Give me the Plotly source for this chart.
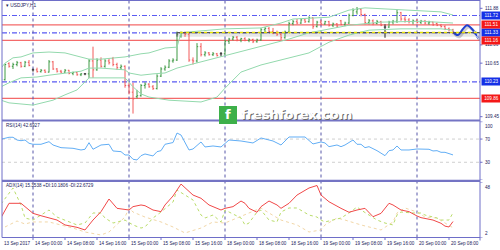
import plotly.graph_objects as go

W, H = 500, 250

# ---------------- data ----------------
bar_index = list(range(114))  # H1 bars from 13 Sep 16:00 (weekend removed)

open_ = [110.20,110.28,110.64,110.58,110.62,110.66,110.58,110.67,110.50,110.50,
         110.46,110.49,110.45,110.68,110.52,110.47,110.45,110.49,110.42,110.44,
         110.39,110.41,110.41,110.70,110.50,110.72,110.58,110.70,110.75,110.62,
         110.55,110.58,110.15,110.00,109.90,109.92,110.15,110.18,110.12,110.08,
         110.36,110.52,110.56,110.70,110.72,111.26,111.32,111.30,110.72,110.70,
         111.02,110.84,110.88,110.84,110.86,110.86,110.86,111.14,111.19,111.23,
         111.17,111.20,111.16,111.18,111.13,111.17,111.40,111.43,111.36,111.32,
         111.30,111.22,111.35,111.54,111.58,111.55,111.62,111.58,111.67,111.47,
         111.57,111.53,111.58,111.50,111.53,111.60,111.52,111.55,111.72,111.80,
         111.86,111.74,111.56,111.60,111.54,111.58,111.46,111.46,111.57,111.59,
         111.78,111.64,111.62,111.58,111.60,111.56,111.59,111.55,111.57,111.54,
         111.50,111.47,111.42,111.40]
high = [110.30,110.64,110.67,110.66,110.70,110.68,110.70,110.72,110.53,110.55,
        110.52,110.51,110.72,110.70,110.54,110.50,110.52,110.50,110.46,110.45,
        110.43,110.43,110.74,111.02,110.76,110.78,110.74,110.76,110.79,110.66,
        110.62,110.60,110.22,110.21,110.05,110.18,110.22,110.20,110.16,110.40,
        110.56,110.60,110.74,110.76,111.36,111.36,111.36,111.34,110.78,111.10,
        111.10,110.92,110.90,110.90,110.88,110.90,111.18,111.22,111.26,111.26,
        111.22,111.23,111.21,111.20,111.20,111.44,111.46,111.46,111.44,111.38,
        111.35,111.38,111.58,111.62,111.64,111.66,111.65,111.70,111.68,111.60,
        111.62,111.60,111.60,111.56,111.55,111.62,111.58,111.76,111.88,111.91,
        111.88,111.76,111.64,111.63,111.62,111.60,111.52,111.60,111.62,111.85,
        111.80,111.70,111.66,111.63,111.64,111.62,111.62,111.60,111.58,111.56,
        111.53,111.50,111.45,111.42]
low = [110.16,110.26,110.55,110.52,110.58,110.55,110.56,110.58,110.46,110.44,
       110.44,110.43,110.44,110.50,110.44,110.42,110.43,110.40,110.38,110.37,
       110.36,110.38,110.32,110.32,110.48,110.55,110.55,110.62,110.58,110.50,
       110.50,110.10,109.95,109.52,109.86,109.90,110.08,110.10,110.05,110.06,
       110.34,110.48,110.54,110.66,110.70,111.22,111.24,110.68,110.62,110.66,
       110.80,110.80,110.82,110.81,110.80,110.80,110.84,111.08,111.16,111.14,
       111.12,111.14,111.12,111.10,111.11,111.15,111.34,111.33,111.30,111.26,
       111.17,111.20,111.33,111.50,111.52,111.53,111.55,111.56,111.42,111.45,
       111.50,111.51,111.47,111.46,111.45,111.50,111.48,111.53,111.70,111.74,
       111.70,111.52,111.52,111.50,111.52,111.48,111.22,111.44,111.52,111.55,
       111.60,111.56,111.54,111.52,111.54,111.53,111.52,111.51,111.49,111.48,
       111.45,111.39,111.36,111.30]
close = [110.28,110.62,110.58,110.62,110.66,110.58,110.67,110.60,110.50,110.46,
         110.49,110.45,110.68,110.52,110.47,110.45,110.49,110.42,110.44,110.39,
         110.41,110.41,110.70,110.50,110.72,110.58,110.70,110.66,110.62,110.55,
         110.58,110.15,110.00,109.85,109.92,110.15,110.18,110.12,110.08,110.36,
         110.52,110.56,110.70,110.72,111.30,111.32,111.30,110.72,110.70,111.02,
         110.84,110.88,110.84,110.86,110.82,110.86,111.14,111.19,111.23,111.17,
         111.20,111.16,111.18,111.13,111.17,111.40,111.43,111.36,111.32,111.30,
         111.22,111.35,111.54,111.58,111.55,111.62,111.58,111.67,111.47,111.57,
         111.53,111.58,111.50,111.53,111.48,111.52,111.55,111.72,111.84,111.86,
         111.74,111.56,111.60,111.54,111.58,111.50,111.46,111.57,111.59,111.78,
         111.64,111.62,111.58,111.60,111.56,111.59,111.55,111.57,111.51,111.50,
         111.47,111.42,111.40,111.33]

# Bollinger bands (vertices)
bb_up_x = [0, 1, 3, 5, 8, 12, 16, 20, 22, 25, 28, 31, 35, 37, 41, 44, 45, 47, 56, 65, 70, 73, 82, 87, 91, 100, 110, 113]
bb_up = [110.54, 110.65, 110.77, 110.79, 110.88, 110.90, 110.88, 110.79, 110.74, 110.74, 110.77, 110.79, 110.86, 110.88,
         110.99, 111.01, 111.33, 111.35, 111.42, 111.44, 111.55, 111.64, 111.68, 111.84, 111.89, 111.84, 111.80, 111.73]
bb_mid_x = [0, 2, 5, 9, 12, 16, 20, 22, 25, 28, 31, 32, 35, 38, 41, 44, 50, 56, 65, 72, 77, 82, 87, 95, 105, 113]
bb_mid = [110.12, 110.21, 110.32, 110.34, 110.38, 110.43, 110.47, 110.54, 110.54, 110.52, 110.50, 110.43, 110.38, 110.41,
          110.43, 110.54, 110.68, 110.83, 111.03, 111.19, 111.33, 111.42, 111.50, 111.57, 111.59, 111.55]
bb_lo_x = [0, 2, 8, 10, 13, 16, 19, 22, 25, 31, 33, 35, 37, 42, 50, 54, 56, 60, 65, 70, 77, 82, 87, 92, 100, 110, 113]
bb_lo = [109.82, 109.76, 109.71, 109.76, 109.82, 109.94, 110.05, 110.32, 110.32, 110.32, 110.12, 109.96, 109.89, 109.82,
         109.78, 109.89, 110.09, 110.45, 110.61, 110.72, 110.88, 111.12, 111.28, 111.39, 111.42, 111.42, 111.39]

# RSI(14)
rsi_x = [0, 2, 3, 4, 5, 6, 7, 8, 10, 12, 13, 15, 18, 20, 21, 22, 23, 25, 27, 28, 30, 31, 32, 33, 34, 35, 36, 38, 39, 40,
         41, 42, 43, 44, 45, 47, 48, 50, 51, 53, 55, 57, 60, 63, 65, 68, 70, 72, 76, 78, 80, 81, 82, 84, 85, 86, 88, 89, 90,
         91, 92, 94, 96, 97, 98, 99, 100, 102, 104, 107, 108, 109, 110, 111, 113]
rsi = [69.7, 73.1, 73.1, 68.4, 67.2, 68.4, 62.8, 61.0, 61.0, 65.5, 59.8, 55.2, 54.1, 51.2, 52.4, 63.8, 52.4, 59.8, 61.0,
       49.5, 48.3, 42.6, 42.6, 35.2, 34.0, 41.4, 44.3, 40.9, 48.3, 50.0, 61.0, 62.0, 64.0, 80.4, 77.0, 51.2, 52.9, 65.0,
       56.4, 58.1, 56.4, 68.4, 66.7, 63.3, 71.9, 66.7, 59.8, 73.6, 73.6, 61.6, 65.0, 63.3, 56.9, 59.8, 56.9, 59.8, 68.4,
       61.0, 61.0, 55.2, 56.9, 50.0, 41.4, 50.0, 51.2, 58.1, 51.2, 51.2, 52.9, 52.4, 49.5, 50.0, 47.2, 47.2, 42.69]

# ADX(14)
adx_x = [0, 1, 2, 5, 8, 10, 12, 14, 16, 19, 21, 23, 25, 27, 29, 32, 33, 35, 36, 38, 40, 41, 43, 45, 48, 50, 52, 53, 55,
         56, 58, 60, 61, 62, 64, 65, 67, 69, 70, 72, 74, 77, 79, 80, 82, 85, 87, 89, 91, 93, 95, 97, 98, 100, 102, 104,
         105, 108, 110, 111, 112, 113]
adx = [18.6, 25.0, 30.6, 30.6, 22.2, 20.2, 18.6, 16.6, 12.5, 10.5, 8.3, 16.6, 23.6, 34.2, 26.4, 25.0, 27.8, 29.2, 28.6,
       25.0, 23.6, 29.2, 36.7, 46.7, 37.5, 34.8, 29.2, 27.8, 25.0, 26.4, 27.8, 32.5, 30.6, 26.4, 23.1, 27.8, 32.5, 29.2,
       26.4, 30.6, 37.5, 43.4, 45.5, 37.5, 31.9, 26.4, 23.1, 25.0, 26.4, 19.4, 22.2, 30.6, 29.2, 25.0, 23.6, 20.0, 18.6,
       16.6, 13.9, 11.5, 10.8, 15.35]
di_a_x = [0, 3, 5, 6, 8, 10, 12, 14, 16, 19, 21, 23, 25, 26, 28, 31, 33, 35, 36, 38, 40, 43, 44, 46, 48, 50, 51, 53, 55,
          56, 57, 60, 61, 62, 64, 65, 67, 69, 70, 72, 74, 77, 79, 80, 81, 83, 85, 87, 89, 90, 92, 94, 96, 98, 99, 100,
          103, 105, 106, 109, 110, 112, 113]
di_a = [30.0, 43.4, 29.2, 18.3, 16.6, 20.8, 25.0, 19.1, 16.6, 12.5, 14.1, 22.5, 22.5, 18.3, 14.1, 16.6, 12.5, 9.9, 10.8,
        18.3, 23.3, 31.7, 41.7, 37.5, 33.4, 20.8, 18.3, 20.8, 15.0, 25.0, 23.3, 18.3, 12.5, 14.1, 23.3, 25.0, 16.6, 15.0,
        23.3, 26.7, 26.7, 20.8, 19.1, 16.6, 15.0, 16.6, 18.3, 22.5, 27.5, 25.0, 20.8, 16.6, 14.1, 12.5, 20.8, 23.3, 22.5,
        22.5, 20.8, 18.3, 16.6, 16.6, 22.67]
di_b_x = [1, 4, 6, 8, 12, 15, 18, 21, 25, 27, 31, 32, 33, 36, 40, 43, 46, 50, 53, 56, 59, 61, 62, 65, 67, 70, 74, 77,
          80, 81, 84, 86, 90, 93, 95, 98, 99, 101, 104, 106, 109, 111, 113]
di_b = [10.8, 15.8, 13.3, 15.0, 15.0, 12.5, 9.9, 6.6, 4.1, 6.6, 19.1, 26.7, 23.3, 19.1, 15.0, 10.8, 5.8, 9.9, 15.0, 14.1,
        18.3, 20.8, 22.5, 26.7, 22.5, 16.6, 12.5, 6.6, 8.3, 12.5, 18.3, 16.6, 12.5, 9.9, 8.3, 15.0, 22.5, 26.7, 23.3, 19.1,
        18.3, 14.1, 10.18]

# horizontal levels
red_levels = [111.51, 111.16, 109.86]
blue_levels = [111.72, 111.33, 110.23]
price_ticks = [111.88, 111.06, 110.65, 109.45]
zone_start = 44
zone_top, zone_bottom = 111.335, 111.245

# forecast arrow
fc_x = [113, 114.2, 115.5, 116.5, 117.5, 118.5, 119.3]
fc_y = [111.35, 111.28, 111.42, 111.50, 111.44, 111.33, 111.21]

# time axis
time_tick_idx = [0, 8, 16, 24, 32, 40, 48, 56, 64, 72, 80, 88, 96, 104, 112]
time_tick_text = ["13 Sep 2017", "14 Sep 00:00", "14 Sep 08:00", "14 Sep 16:00", "15 Sep 00:00", "15 Sep 08:00",
                  "15 Sep 16:00", "18 Sep 00:00", "18 Sep 08:00", "18 Sep 16:00", "19 Sep 00:00", "19 Sep 08:00",
                  "19 Sep 16:00", "20 Sep 00:00", "20 Sep 08:00"]
day_sep_idx = [8, 32, 56, 80, 104]

# ---------------- figure ----------------
def px_x(p):
    return p / W

def px_y(p):
    return 1 - p / H

X_LEFT, X_RIGHT = 2, 480
MAIN_T, MAIN_B = 1, 119.5
RSI_T, RSI_B = 121.5, 179.5
ADX_T, ADX_B = 182.5, 237.5
X_RANGE = [0.25, 119.75]

def idx_to_paper(i):
    return px_x(X_LEFT) + (i - X_RANGE[0]) / (X_RANGE[1] - X_RANGE[0]) * (px_x(X_RIGHT) - px_x(X_LEFT))

FRAME = "#6e6ec8"
TXT = "#20205a"
FONT = "Liberation Sans"
DASHDOT = "5px,2px,1px,2px"

fig = go.Figure()

# Bollinger
bb_col = "#93d9ad"
for bx, by in [(bb_up_x, bb_up), (bb_mid_x, bb_mid), (bb_lo_x, bb_lo)]:
    fig.add_trace(go.Scatter(x=bx, y=by, mode="lines", line=dict(color=bb_col, width=1),
                             hoverinfo="skip", showlegend=False, xaxis="x", yaxis="y"))

# OHLC bars, doji separated in black
up_i = [i for i in bar_index if close[i] > open_[i]]
dn_i = [i for i in bar_index if close[i] < open_[i]]
dj_i = [i for i in bar_index if close[i] == open_[i]]
for idx, col in [(up_i, "#3f9a45"), (dn_i, "#f25a5a"), (dj_i, "#222222")]:
    fig.add_trace(go.Ohlc(
        x=[bar_index[i] for i in idx], open=[open_[i] for i in idx], high=[high[i] for i in idx],
        low=[low[i] for i in idx], close=[close[i] for i in idx],
        increasing=dict(line=dict(color=col, width=1)), decreasing=dict(line=dict(color=col, width=1)),
        tickwidth=0.3, hoverinfo="skip", showlegend=False, xaxis="x", yaxis="y"))

# forecast curve with shadow
fig.add_trace(go.Scatter(x=[v + 0.35 for v in fc_x], y=[v - 0.04 for v in fc_y], mode="lines",
                         line=dict(color="rgba(90,90,110,0.30)", width=3, shape="spline"),
                         hoverinfo="skip", showlegend=False, xaxis="x", yaxis="y"))
fig.add_trace(go.Scatter(x=fc_x, y=fc_y, mode="lines+markers",
                         line=dict(color="#1f3fcf", width=2, shape="spline"),
                         marker=dict(symbol="arrow", angleref="previous", color="#1f3fcf",
                                     size=[0] * (len(fc_x) - 1) + [8]),
                         hoverinfo="skip", showlegend=False, xaxis="x", yaxis="y"))

# RSI
fig.add_trace(go.Scatter(x=rsi_x, y=rsi, mode="lines", line=dict(color="#62aef5", width=1),
                         hoverinfo="skip", showlegend=False, xaxis="x", yaxis="y2"))

# ADX
fig.add_trace(go.Scatter(x=di_b_x, y=di_b, mode="lines", line=dict(color="#f2d7a8", width=1, dash="dot"),
                         hoverinfo="skip", showlegend=False, xaxis="x", yaxis="y3"))
fig.add_trace(go.Scatter(x=di_a_x, y=di_a, mode="lines", line=dict(color="#b9dc6a", width=1, dash="dot"),
                         hoverinfo="skip", showlegend=False, xaxis="x", yaxis="y3"))
fig.add_trace(go.Scatter(x=adx_x, y=adx, mode="lines", line=dict(color="#f04848", width=1),
                         hoverinfo="skip", showlegend=False, xaxis="x", yaxis="y3"))

shapes = []
# zone band
shapes.append(dict(type="rect", xref="x", yref="y", x0=zone_start, x1=X_RANGE[1], y0=zone_bottom, y1=zone_top,
                   fillcolor="rgba(170,170,170,0.28)", line=dict(width=0), layer="below"))
shapes.append(dict(type="line", xref="x", yref="y", x0=zone_start, x1=zone_start, y0=zone_bottom, y1=zone_top,
                   line=dict(color="#555555", width=1)))
# levels
for lv in red_levels:
    shapes.append(dict(type="line", xref="paper", yref="y", x0=px_x(X_LEFT), x1=px_x(X_RIGHT), y0=lv, y1=lv,
                       line=dict(color="#f46a6a", width=1.3), layer="below"))
for lv in blue_levels:
    shapes.append(dict(type="line", xref="paper", yref="y", x0=px_x(X_LEFT), x1=px_x(X_RIGHT), y0=lv, y1=lv,
                       line=dict(color="#5a5af2", width=1.1, dash=DASHDOT), layer="below"))
shapes.append(dict(type="line", xref="x", yref="y", x0=zone_start, x1=X_RANGE[1], y0=zone_top, y1=zone_top,
                   line=dict(color="#555555", width=1.2, dash="3px,3px")))
shapes.append(dict(type="line", xref="x", yref="y", x0=zone_start + 0.75, x1=X_RANGE[1], y0=zone_top, y1=zone_top,
                   line=dict(color="#e6e000", width=1.5, dash="3px,3px")))
# RSI levels
for lv in [70, 30]:
    shapes.append(dict(type="line", xref="paper", yref="y2", x0=px_x(X_LEFT), x1=px_x(X_RIGHT), y0=lv, y1=lv,
                       line=dict(color="#cfcfcf", width=1, dash="dot"), layer="below"))
# day separators
for d in day_sep_idx:
    shapes.append(dict(type="line", xref="x", yref="paper", x0=d, x1=d, y0=px_y(ADX_B), y1=px_y(0),
                       line=dict(color="#5656a8", width=1, dash="dot"), layer="below"))
# frame
shapes.append(dict(type="line", xref="paper", yref="paper", x0=px_x(X_LEFT), x1=px_x(X_LEFT), y0=px_y(ADX_B), y1=1,
                   line=dict(color=FRAME, width=1)))
shapes.append(dict(type="line", xref="paper", yref="paper", x0=px_x(X_RIGHT), x1=px_x(X_RIGHT), y0=px_y(ADX_B + 3), y1=1,
                   line=dict(color=FRAME, width=1)))
shapes.append(dict(type="line", xref="paper", yref="paper", x0=px_x(X_LEFT), x1=px_x(X_RIGHT), y0=px_y(0.5), y1=px_y(0.5),
                   line=dict(color=FRAME, width=1)))
for yy in [120.5, 180.8]:
    shapes.append(dict(type="line", xref="paper", yref="paper", x0=px_x(X_LEFT), x1=px_x(X_RIGHT), y0=px_y(yy), y1=px_y(yy),
                       line=dict(color="#7474c4", width=2.2)))
shapes.append(dict(type="line", xref="paper", yref="paper", x0=px_x(X_LEFT), x1=px_x(X_RIGHT), y0=px_y(ADX_B), y1=px_y(ADX_B),
                   line=dict(color=FRAME, width=1)))
for t in time_tick_idx[1:]:
    shapes.append(dict(type="line", xref="x", yref="paper", x0=t, x1=t, y0=px_y(ADX_B), y1=px_y(ADX_B + 2.5),
                       line=dict(color=FRAME, width=1)))

annotations = []
# time labels
for t, s in zip(time_tick_idx, time_tick_text):
    xp = px_x(X_LEFT) if t < X_RANGE[0] else idx_to_paper(t)
    annotations.append(dict(x=xp, xref="paper", y=px_y(243.5), yref="paper", text=s, showarrow=False, xanchor="left",
                            yanchor="middle", font=dict(family=FONT, size=4.6, color=TXT)))

def right_label(val, yref, txt, yanchor="middle"):
    shapes.append(dict(type="line", xref="paper", yref=yref, x0=px_x(X_RIGHT), x1=px_x(X_RIGHT + 2.5), y0=val, y1=val,
                       line=dict(color=FRAME, width=1)))
    annotations.append(dict(x=px_x(X_RIGHT + 3), xref="paper", y=val, yref=yref, text=txt, showarrow=False,
                            xanchor="left", yanchor=yanchor, font=dict(family=FONT, size=4.6, color=TXT)))

for v in price_ticks:
    right_label(v, "y", f"{v:.2f}")
for v, anc in [(100, "top"), (70, "middle"), (30, "middle"), (0, "bottom")]:
    right_label(v, "y2", str(v), anc)
for v, anc in [(48, "top"), (2, "bottom")]:
    right_label(v, "y3", str(v), anc)

def box_label(val, bg):
    annotations.append(dict(x=px_x(X_RIGHT + 1), xref="paper", y=val, yref="y", text=f"{val:.2f}", showarrow=False,
                            xanchor="left", yanchor="middle", bgcolor=bg, borderpad=1, width=17,
                            font=dict(family=FONT, size=4.6, color="white")))

for v in blue_levels:
    box_label(v, "#1530e6")
for v in red_levels:
    box_label(v, "#f41818")

# pane titles
annotations.append(dict(x=px_x(4), xref="paper", y=px_y(5.5), yref="paper", text="▾ USDJPY,H1", showarrow=False,
                        xanchor="left", yanchor="middle", font=dict(family=FONT, size=4.8, color=TXT)))
annotations.append(dict(x=px_x(4), xref="paper", y=px_y(125), yref="paper", text="RSI(14) 42.6927", showarrow=False,
                        xanchor="left", yanchor="middle", font=dict(family=FONT, size=4.6, color=TXT)))
annotations.append(dict(x=px_x(4), xref="paper", y=px_y(185.5), yref="paper",
                        text="ADX(14) 15.3538 +DI:10.1806 -DI:22.6729", showarrow=False,
                        xanchor="left", yanchor="middle", font=dict(family=FONT, size=4.6, color=TXT)))

# watermark
shapes.append(dict(type="rect", xref="paper", yref="paper", x0=px_x(219), x1=px_x(237), y0=px_y(124), y1=px_y(106),
                   fillcolor="#3db04a", line=dict(width=0)))
annotations.append(dict(x=px_x(228), xref="paper", y=px_y(115), yref="paper", text="<b>f</b>", showarrow=False,
                        font=dict(family="DejaVu Sans", size=13, color="white")))
annotations.append(dict(x=px_x(240), xref="paper", y=px_y(116), yref="paper", text="<b>freshforex.com</b>",
                        showarrow=False, xanchor="left", yanchor="middle",
                        font=dict(family="DejaVu Sans", size=13, color="#6b6b6b")))
annotations.append(dict(x=px_x(239), xref="paper", y=px_y(115), yref="paper", text="<b>freshforex.com</b>",
                        showarrow=False, xanchor="left", yanchor="middle",
                        font=dict(family="DejaVu Sans", size=13, color="white")))

ax_common = dict(showgrid=False, zeroline=False, showticklabels=False, ticks="", showline=False, fixedrange=True)
fig.update_layout(
    width=W, height=H, margin=dict(l=0, r=0, t=0, b=0), autosize=False,
    paper_bgcolor="white", plot_bgcolor="white", showlegend=False,
    xaxis=dict(domain=[px_x(X_LEFT), px_x(X_RIGHT)], range=X_RANGE, anchor="y3",
               rangeslider=dict(visible=False), **ax_common),
    yaxis=dict(domain=[px_y(MAIN_B), px_y(MAIN_T)], range=[109.387, 112.044], anchor="x", **ax_common),
    yaxis2=dict(domain=[px_y(RSI_B), px_y(RSI_T)], range=[0.3, 100.3], anchor="x", **ax_common),
    yaxis3=dict(domain=[px_y(ADX_B), px_y(ADX_T)], range=[2, 48], anchor="x", **ax_common),
    shapes=shapes, annotations=annotations,
)

fig.write_html("out.html")
